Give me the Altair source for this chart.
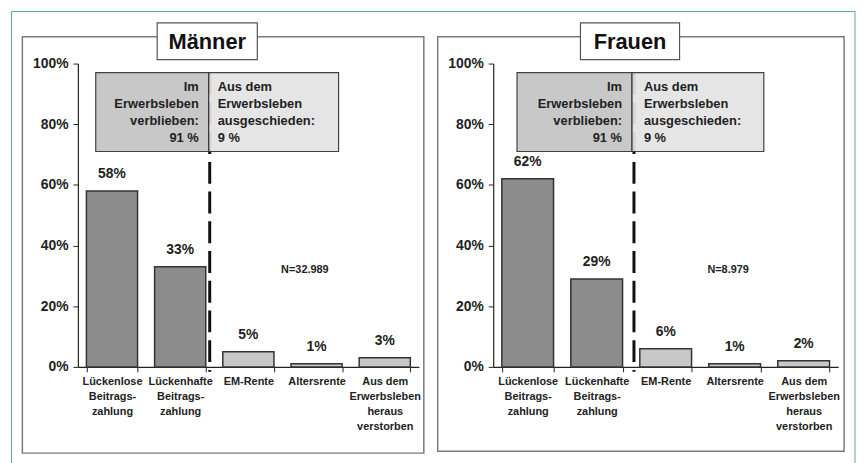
import altair as alt
import pandas as pd

categories = [
    "Lückenlose|Beitrags-|zahlung",
    "Lückenhafte|Beitrags-|zahlung",
    "EM-Rente",
    "Altersrente",
    "Aus dem|Erwerbsleben|heraus|verstorben",
]
groups = ["dark", "dark", "light", "light", "light"]
men_values = [58, 33, 5, 1, 3]
women_values = [62, 29, 6, 1, 2]
panel_titles = ["Männer", "Frauen"]
n_labels = ["N=32.989", "N=8.979"]
box_left_text = "Im|Erwerbsleben|verblieben:|91 %"
box_right_text = "Aus dem|Erwerbsleben|ausgeschieden:|9 %"
y_ticks = [0, 20, 40, 60, 80, 100]

FONT = "Liberation Sans"
GREEN = "#5aaa7e"
one = pd.DataFrame({"d": [0]})


def panel(title, values, n_label, width, geo, green=False):
    df = pd.DataFrame({"cat": categories, "val": values, "grp": groups,
                       "lab": [f"{v}%" for v in values]})
    layers = []
    if green:
        layers.append(alt.Chart(one).mark_rule(color=GREEN, strokeWidth=1).encode(
            x=alt.value(-67), y=alt.value(-52.5), y2=alt.value(410)))
        layers.append(alt.Chart(one).mark_rule(color=GREEN, strokeWidth=1).encode(
            x=alt.value(784), y=alt.value(-52.5), y2=alt.value(410)))
        layers.append(alt.Chart(one).mark_rule(color=GREEN, strokeWidth=1).encode(
            x=alt.value(-67), x2=alt.value(784), y=alt.value(-52.5)))
    # panel frame
    layers.append(alt.Chart(one).mark_rect(fillOpacity=0, stroke="#7a7a7a", strokeWidth=1.5).encode(
        x=alt.value(-56), x2=alt.value(geo["frame_r"]), y=alt.value(-27), y2=alt.value(geo["frame_b"])))
    # title box
    layers.append(alt.Chart(one).mark_rect(fill="white", stroke="#555555", strokeWidth=1.2).encode(
        x=alt.value(geo["tb_l"]), x2=alt.value(geo["tb_r"]), y=alt.value(-41), y2=alt.value(-4)))
    layers.append(alt.Chart(one).mark_text(font=FONT, fontSize=22, fontWeight="bold", color="#111111",
                                           baseline="middle", align="center").encode(
        x=alt.value((geo["tb_l"] + geo["tb_r"]) / 2), y=alt.value(-22), text=alt.value(title)))
    # dashed separator
    layers.append(alt.Chart(one).mark_rule(color="#111111", strokeWidth=3, strokeDash=[22, 8]).encode(
        x=alt.value(geo["dash"]), y=alt.datum(97), y2=alt.value(311)))
    # annotation boxes
    layers.append(alt.Chart(one).mark_rect(fill="#c4c4c4", stroke="#333333", strokeWidth=1.2, opacity=0.92).encode(
        x=alt.value(geo["b1_l"]), x2=alt.value(geo["b_mid"]), y=alt.datum(97), y2=alt.datum(71)))
    layers.append(alt.Chart(one).mark_rect(fill="#e3e3e3", stroke="#333333", strokeWidth=1.2, opacity=0.92).encode(
        x=alt.value(geo["b_mid"]), x2=alt.value(geo["b2_r"]), y=alt.datum(97), y2=alt.datum(71)))
    layers.append(alt.Chart(one).mark_text(font=FONT, fontSize=13, fontWeight="bold", color="#222222",
                                           align="right", baseline="top", lineBreak="|", lineHeight=17).encode(
        x=alt.value(geo["t1"]), y=alt.value(geo["ty"]), text=alt.value(box_left_text)))
    layers.append(alt.Chart(one).mark_text(font=FONT, fontSize=13, fontWeight="bold", color="#222222",
                                           align="left", baseline="top", lineBreak="|", lineHeight=17).encode(
        x=alt.value(geo["t2"]), y=alt.value(geo["ty"]), text=alt.value(box_right_text)))
    # bars
    xenc = alt.X("cat:N", sort=categories,
                 scale=alt.Scale(paddingInner=0.25, paddingOuter=0.125),
                 axis=alt.Axis(title=None, labelAngle=0, labelFont=FONT, labelFontSize=11,
                               labelFontWeight="bold", labelColor="#222222",
                               labelExpr="split(datum.label, '|')", labelLineHeight=15,
                               labelBaseline="top", labelPadding=4, labelOverlap=False,
                               labelLimit=200,
                               tickBand="extent", tickSize=5, tickColor="#222222",
                               domainColor="#222222", domainWidth=1.2))
    yenc = alt.Y("val:Q", scale=alt.Scale(domain=[0, 100]),
                 axis=alt.Axis(title=None, values=y_ticks, labelExpr="datum.value + '%'",
                               labelFont=FONT, labelFontSize=14, labelFontWeight="bold",
                               labelColor="#222222", labelPadding=5, tickSize=5,
                               tickColor="#222222", domainColor="#222222", domainWidth=1.2,
                               grid=False))
    bars = alt.Chart(df).mark_bar(stroke="#333333", strokeWidth=1.5).encode(
        x=xenc, y=yenc,
        color=alt.Color("grp:N", scale=alt.Scale(domain=["dark", "light"], range=["#8c8c8c", "#c8c8c8"]),
                        legend=None))
    labels = alt.Chart(df).mark_text(font=FONT, fontSize=14, fontWeight="bold", color="#222222",
                                     baseline="bottom", dy=-10).encode(
        x=alt.X("cat:N", sort=categories), y="val:Q", text="lab:N")
    layers.append(bars)
    layers.append(labels)
    layers.append(alt.Chart(one).mark_text(font=FONT, fontSize=11, fontWeight="bold", color="#222222",
                                           baseline="middle", align="center").encode(
        x=alt.value(geo["nx"]), y=alt.datum(32), text=alt.value(n_label)))
    return alt.layer(*layers).properties(width=width, height=306)


geo_m = dict(frame_r=349, frame_b=393, tb_l=80, tb_r=181, dash=133, b1_l=18, b_mid=132, b2_r=263,
             t1=122, t2=141, ty=18, nx=229)
geo_w = dict(frame_r=354, frame_b=391, tb_l=88, tb_r=188, dash=142, b1_l=24, b_mid=140, b2_r=273,
             t1=130, t2=152, ty=18, nx=237)

left = panel(panel_titles[0], men_values, n_labels[0], 344, geo_m, green=True)
right = panel(panel_titles[1], women_values, n_labels[1], 348, geo_w)

chart = alt.hconcat(left, right, spacing=75, bounds="flush").properties(
    padding={"left": 2.5, "top": 0, "right": 0, "bottom": 0}
).configure_view(stroke="transparent")

chart.save("out.html", embed_options={"renderer": "svg", "actions": False})
